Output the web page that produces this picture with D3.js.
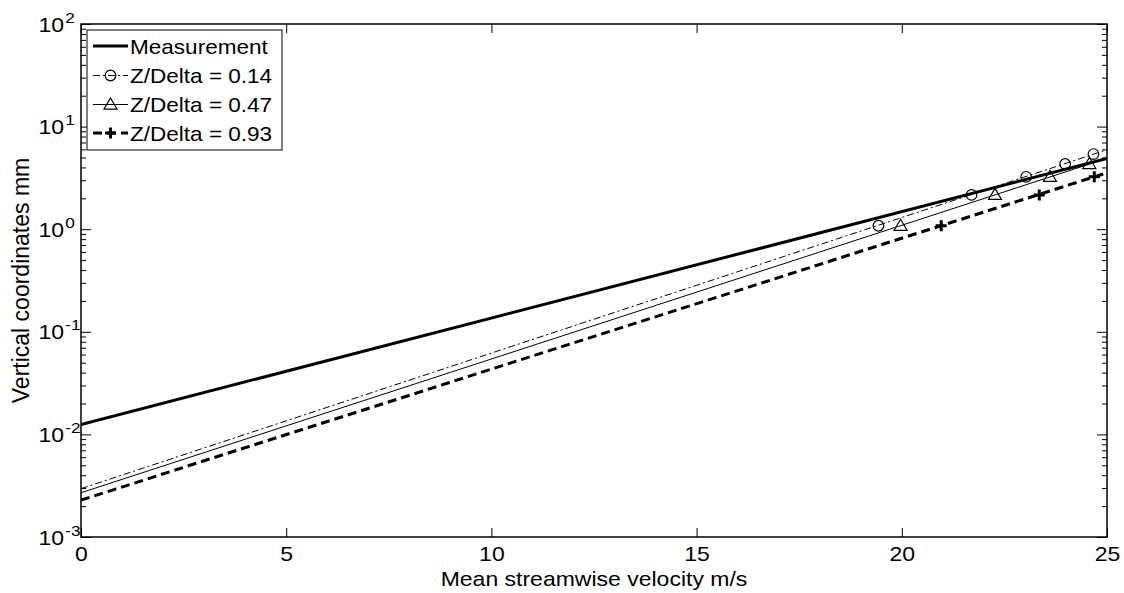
<!DOCTYPE html>
<html><head><meta charset="utf-8">
<script src="https://cdn.jsdelivr.net/npm/d3@7"></script>
<style>body{margin:0;background:#fff} text{font-family:Arial,"Liberation Sans",Helvetica,sans-serif;fill:#000}</style>
</head><body><svg id="c" width="1124" height="593"></svg>
<script>
// ---- data ----
const xDomain = [0, 25];
const yDomain = [1e-3, 1e2];
const xTicks = [0, 5, 10, 15, 20, 25];
const yDecadeExps = [-3, -2, -1, 0, 1, 2];
const lineX = [0, 25];
const measurementY = [0.0125, 4.9];
const delta014Y = [0.00296, 5.95];
const delta047Y = [0.0027, 4.9];
const delta093Y = [0.00229, 3.55];
const circleX = [19.43, 21.70, 23.03, 23.98, 24.67];
const circleY = [1.08, 2.16, 3.24, 4.32, 5.40];
const triX = [19.97, 22.27, 23.61, 24.57];
const triY = [1.08, 2.16, 3.24, 4.32];
const plusX = [20.96, 23.35, 24.69];
const plusY = [1.08, 2.16, 3.24];
const legendLabels = ["Measurement", "Z/Delta = 0.14", "Z/Delta = 0.47", "Z/Delta = 0.93"];
const xLabel = "Mean streamwise velocity m/s";
const yLabel = "Vertical coordinates mm";

// ---- layout ----
const L = 81, R = 1107, T = 24, B = 537;
const SX = 1.15, SXL = 1.1;
const svg = d3.select("#c");
const x = d3.scaleLinear().domain(xDomain).range([L, R]);
const y = d3.scaleLog().domain(yDomain).range([B, T]);

const yMajor = yDecadeExps.map(e => Math.pow(10, e));
const yMinor = [];
yDecadeExps.slice(0, -1).forEach(e => { for (let k = 2; k <= 9; k++) yMinor.push(k * Math.pow(10, e)); });

// axes with inward ticks
const gx = svg.append("g").attr("transform", `translate(0,${B})`)
  .call(d3.axisBottom(x).tickValues(xTicks).tickSize(-9).tickPadding(10).tickFormat(d3.format("d")));
gx.select(".domain").remove();
gx.selectAll("text").attr("font-size", 20).attr("dy", "0.71em").attr("transform", `scale(${SX},1)`);
gx.selectAll("line").attr("stroke-width", 1);

const gxt = svg.append("g").attr("transform", `translate(0,${T})`)
  .call(d3.axisTop(x).tickValues(xTicks).tickSize(-9).tickFormat(""));
gxt.select(".domain").remove();

const gyl = svg.append("g").attr("transform", `translate(${L},0)`)
  .call(d3.axisLeft(y).tickValues(yMajor).tickSize(-10).tickFormat(""));
gyl.select(".domain").remove();
const gylm = svg.append("g").attr("transform", `translate(${L},0)`)
  .call(d3.axisLeft(y).tickValues(yMinor).tickSize(-5).tickFormat(""));
gylm.select(".domain").remove();
const gyr = svg.append("g").attr("transform", `translate(${R},0)`)
  .call(d3.axisRight(y).tickValues(yMajor).tickSize(-10).tickFormat(""));
gyr.select(".domain").remove();
const gyrm = svg.append("g").attr("transform", `translate(${R},0)`)
  .call(d3.axisRight(y).tickValues(yMinor).tickSize(-5).tickFormat(""));
gyrm.select(".domain").remove();

// y tick labels with superscripts
yDecadeExps.forEach(e => {
  const yy = y(Math.pow(10, e));
  const g = svg.append("g").attr("transform", `translate(64,${yy + 7.5}) scale(${SX},1)`);
  g.append("text").attr("text-anchor", "end").attr("font-size", 20).text("10");
  g.append("text").attr("x", 1).attr("y", -9).attr("font-size", 15).text(String(e));
});

// frame
svg.append("rect").attr("x", L).attr("y", T).attr("width", R - L).attr("height", B - T)
  .attr("fill", "none").attr("stroke", "#000").attr("stroke-width", 1.5);

// clip
svg.append("clipPath").attr("id", "clip").append("rect")
  .attr("x", L).attr("y", T).attr("width", R - L).attr("height", B - T);
const plot = svg.append("g").attr("clip-path", "url(#clip)");

const line = d3.line().x(d => x(d[0])).y(d => y(d[1]));
const series = [
  { ys: measurementY, w: 3, dash: null },
  { ys: delta014Y, w: 1, dash: "7,3,2,3" },
  { ys: delta047Y, w: 1, dash: null },
  { ys: delta093Y, w: 3, dash: "9,5" }
];
series.forEach(s => {
  plot.append("path").datum(lineX.map((v, i) => [v, s.ys[i]]))
    .attr("d", line).attr("fill", "none").attr("stroke", "#000")
    .attr("stroke-width", s.w).attr("stroke-dasharray", s.dash);
});

// markers
function drawCircle(g, cx, cy) {
  g.append("circle").attr("cx", cx).attr("cy", cy).attr("r", 5.3)
    .attr("fill", "none").attr("stroke", "#000").attr("stroke-width", 1.2);
}
function drawTri(g, cx, cy) {
  const s = 6.5;
  g.append("path").attr("d", `M${cx},${cy - s}L${cx + s},${cy + s * 0.7}L${cx - s},${cy + s * 0.7}Z`)
    .attr("fill", "none").attr("stroke", "#000").attr("stroke-width", 1.2);
}
function drawPlus(g, cx, cy) {
  const s = 5.5;
  g.append("path").attr("d", `M${cx - s},${cy}H${cx + s}M${cx},${cy - s}V${cy + s}`)
    .attr("fill", "none").attr("stroke", "#000").attr("stroke-width", 3);
}
const mk = svg.append("g");
circleX.forEach((v, i) => drawCircle(mk, x(v), y(circleY[i])));
triX.forEach((v, i) => drawTri(mk, x(v), y(triY[i])));
plusX.forEach((v, i) => drawPlus(mk, x(v), y(plusY[i])));

// axis labels
svg.append("text").attr("transform", `translate(${(L + R) / 2},586) scale(${SX},1)`)
  .attr("text-anchor", "middle").attr("font-size", 20).text(xLabel);
svg.append("text").attr("transform", `translate(29,${(T + B) / 2}) rotate(-90)`)
  .attr("text-anchor", "middle").attr("font-size", 23).text(yLabel);

// legend
const lg = svg.append("g");
lg.append("rect").attr("x", 87).attr("y", 30).attr("width", 195).attr("height", 120)
  .attr("fill", "#fff").attr("stroke", "#000").attr("stroke-width", 1);
const rowY = [46, 75.5, 104.5, 133];
legendLabels.forEach((lab, i) => {
  const s = series[i];
  const yy = rowY[i];
  lg.append("line").attr("x1", 93).attr("x2", 128).attr("y1", yy).attr("y2", yy)
    .attr("stroke", "#000").attr("stroke-width", s.w).attr("stroke-dasharray", s.dash);
  if (i === 1) drawCircle(lg, 110.5, yy);
  if (i === 2) drawTri(lg, 110.5, yy);
  if (i === 3) drawPlus(lg, 110.5, yy);
  lg.append("text").attr("transform", `translate(130,${yy + 7.5}) scale(${SXL},1)`)
    .attr("font-size", 20.5).text(lab);
});
</script></body></html>
